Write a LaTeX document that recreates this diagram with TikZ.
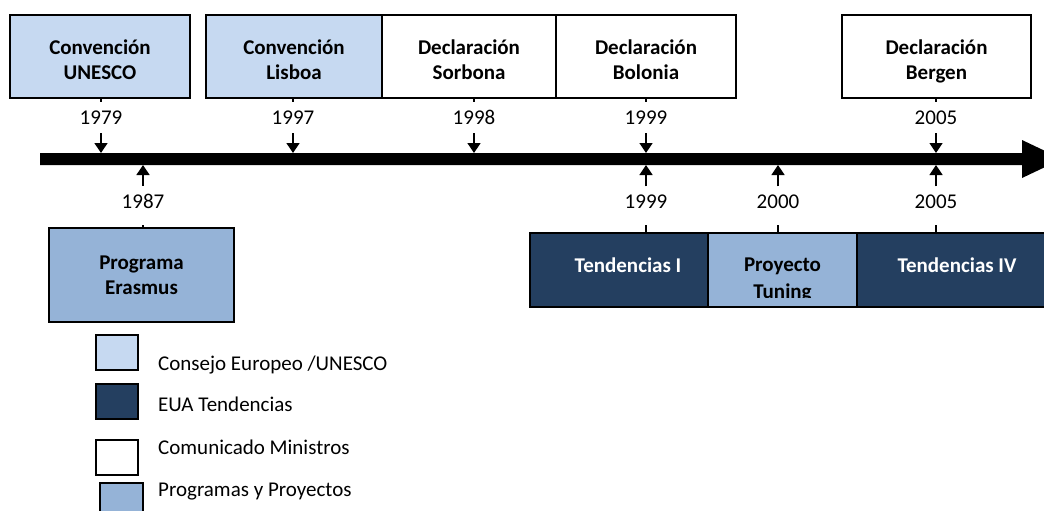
\documentclass[tikz,border=0pt]{standalone}
\usepackage{fontspec}
\setmainfont{Carlito}
\usetikzlibrary{arrows.meta}
\definecolor{lblue}{HTML}{C6D9F1}
\definecolor{mblue}{HTML}{95B3D7}
\definecolor{dblue}{HTML}{243F60}
\begin{document}
\begin{tikzpicture}[x=1pt,y=-1pt,
  box/.style={draw=black, line width=1.5pt, inner sep=0pt, align=center,
    font=\fontsize{21}{25}\selectfont\bfseries},
  topbox/.style={box, minimum height=83pt, text height=46pt, text depth=0pt},
  botbox/.style={box, minimum height=74pt},
  yr/.style={anchor=base, inner xsep=1pt, inner ysep=8.3pt, font=\fontsize{21}{25}\selectfont},
  yrbot/.style={yr, text depth=8pt},
  tick/.style={line width=1.4pt},
  arr/.style={line width=1.4pt, -{Triangle[width=13pt,length=10pt]}},
  legbox/.style={draw=black, line width=1.5pt, minimum width=42pt, minimum height=35pt, inner sep=0pt},
  legtxt/.style={anchor=base west, inner sep=0pt, font=\fontsize{21}{25}\selectfont}
]
\clip (0,0) rectangle (1044,511);
\fill[white] (0,0) rectangle (1044,511);

% timeline
\coordinate (tltop) at (0,153);
\coordinate (tlbot) at (0,165);
\fill[black] (40,153) -- (1022,153) -- (1022,140) -- (1062,159) -- (1022,178) -- (1022,165) -- (40,165) -- cycle;

% top boxes
\node[topbox, fill=lblue, minimum width=180pt] (unesco) at (100,56.5) {Convención\\UNESCO};
\node[topbox, fill=lblue, minimum width=176pt] (lisboa) at (294,56.5) {Convención\\Lisboa};
\node[topbox, fill=white, minimum width=174pt] (sorbona) at (469,56.5) {Declaración\\Sorbona};
\node[topbox, fill=white, minimum width=180pt] (bolonia) at (646,56.5) {Declaración\\Bolonia};
\node[topbox, fill=white, minimum width=189pt] (bergen) at (936.5,56.5) {Declaración\\Bergen};

% top years
\node[yr] (y1979) at (101,124.6) {1979};
\node[yr] (y1997) at (293,124.6) {1997};
\node[yr] (y1998) at (474,124.6) {1998};
\node[yr] (y1999a) at (646,124.6) {1999};
\node[yr] (y2005a) at (936,124.6) {2005};
\foreach \b/\y in {unesco/y1979, lisboa/y1997, sorbona/y1998, bolonia/y1999a, bergen/y2005a}{
  \draw[tick] (\y.north |- \b.south) -- (\y.north);
  \draw[arr] (\y.south) -- (\y.south |- tltop);
}

% bottom boxes
\node[box, fill=mblue, minimum width=185pt, minimum height=94pt] (erasmus) at (141.5,275) {Programa\\Erasmus};
\node[botbox, fill=dblue, text=white, minimum width=178pt, text depth=10pt] (tend1) at (619,270) {\hspace*{18pt}Tendencias I};
\node[botbox, fill=mblue, minimum width=149pt] (tuning) at (782.5,270) {};
\begin{scope}
  \clip (708,233) rectangle (857,297);
  \node[align=center, inner sep=0pt, font=\fontsize{21}{27}\selectfont\bfseries] (tuningtxt) at (782.5,280) {Proyecto\\Tuning};
\end{scope}
\node[botbox, fill=dblue, text=white, minimum width=200pt, text depth=10pt] (tend4) at (957,270) {Tendencias IV};

% bottom years
\node[yrbot] (y1987) at (143,208.6) {1987};
\node[yrbot] (y1999b) at (646,208.6) {1999};
\node[yrbot] (y2000) at (778,208.6) {2000};
\node[yrbot] (y2005b) at (936,208.6) {2005};
\foreach \b/\y in {erasmus/y1987, tend1/y1999b, tuning/y2000, tend4/y2005b}{
  \draw[tick] (\y.south) -- (\y.south |- \b.north);
  \draw[arr] (\y.north) -- (\y.north |- tlbot);
}

% legend
\node[legbox, fill=lblue] (lg1) at (117,352.5) {};
\node[legbox, fill=dblue] (lg2) at (117,401.5) {};
\node[legbox, fill=white] (lg3) at (117,457.5) {};
\node[legbox, fill=mblue, minimum width=43pt] (lg4) at (121.5,500.5) {};
\node[legtxt] (lt1) at (158,370) {Consejo Europeo /UNESCO};
\node[legtxt] (lt2) at (158,411.7) {EUA Tendencias};
\node[legtxt] (lt3) at (158,454) {Comunicado Ministros};
\node[legtxt] (lt4) at (158,496.7) {Programas y Proyectos};
\end{tikzpicture}
\end{document}
